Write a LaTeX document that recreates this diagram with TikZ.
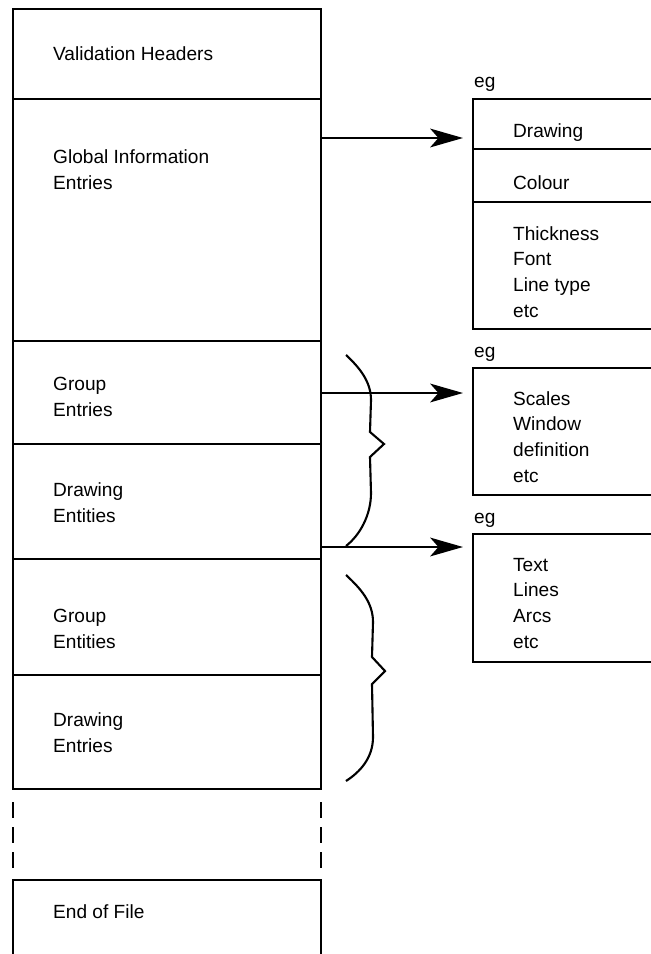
\documentclass[tikz,border=0pt]{standalone}
\usepackage{fontspec}
\setmainfont{Liberation Sans}
\usetikzlibrary{arrows.meta, positioning}

\begin{document}
\begin{tikzpicture}[x=0.03cm, y=-0.03cm, line width=2pt,
    >={Stealth[length=28pt, width=16pt, inset=7pt]},
    block/.style={minimum width=9.24cm, inner sep=0pt, outer sep=0pt, anchor=north west},
    part/.style={block, draw},
    side/.style={minimum width=5.34cm, inner sep=0pt, outer sep=0pt, anchor=north west},
    txt/.style={anchor=base west, inner sep=0pt, align=left, font=\fontsize{16.3}{21.8}\selectfont},
    gap/.style={dash pattern=on 13.7pt off 7.7pt}]
  \useasboundingbox (0,0) rectangle (651,954);

  % file layout
  \node[part, minimum height=2.7cm] (valid) at (13,9) {};
  \node[part, minimum height=7.26cm, below=0pt of valid] (global) {};
  \node[part, minimum height=3.09cm, below=0pt of global] (group1) {};
  \node[part, minimum height=3.45cm, below=0pt of group1] (draw1) {};
  \node[part, minimum height=3.48cm, below=0pt of draw1] (group2) {};
  \node[part, minimum height=3.42cm, below=0pt of group2] (draw2) {};
  \node[block, minimum height=2.22cm] (eof) at (13,880) {};
  \draw (eof.south west) |- (eof.north east) -- (eof.south east);
  \draw[gap] (13,802) -- (13,868);
  \draw[gap] (321,802) -- (321,868);

  % the base of a multi-line label is its last line
  \node[txt] (lvalid) at (52,61) {Validation Headers};
  \node[txt] (lglobal) at (52,189) {Global Information\\Entries};
  \node[txt] (lgroup1) at (52,416) {Group\\Entries};
  \node[txt] (ldraw1) at (52,522) {Drawing\\Entities};
  \node[txt] (lgroup2) at (52,648) {Group\\Entities};
  \node[txt] (ldraw2) at (52,752) {Drawing\\Entries};
  \node[txt] (leof) at (52,918) {End of File};

  % examples
  \node[side, minimum height=6.9cm] (attrib) at (473,99) {};
  \draw (attrib.north east) -| (attrib.south west) -- (attrib.south east);
  \draw (attrib.west |- 0,149) -- (attrib.east |- 0,149);
  \draw (attrib.west |- 0,202) -- (attrib.east |- 0,202);
  \node[txt] (eg1) at (473,88) {eg};
  \node[txt] (ldrawing) at (512,137) {Drawing};
  \node[txt] (lcolour) at (512,189) {Colour};
  \node[txt] (lthick) at (512,317) {Thickness\\Font\\Line type\\etc};

  \node[side, minimum height=3.81cm] (views) at (473,368) {};
  \draw (views.north east) -| (views.south west) -- (views.south east);
  \node[txt] (eg2) at (473,357) {eg};
  \node[txt] (lscales) at (512,482) {Scales\\Window\\definition\\etc};

  \node[side, minimum height=3.84cm] (prims) at (473,534) {};
  \draw (prims.north east) -| (prims.south west) -- (prims.south east);
  \node[txt] (eg3) at (473,523) {eg};
  \node[txt] (ltext) at (512,648) {Text\\Lines\\Arcs\\etc};

  % arrows
  \coordinate (tip1) at (463,138);
  \coordinate (tip2) at (463,393);
  \coordinate (tip3) at (463,547);
  \draw[->] (global.east |- tip1) -- (tip1);
  \draw[->] (group1.east |- tip2) -- (tip2);
  \draw[->] (draw1.east |- tip3) -- (tip3);

  % braces
  \draw[line width=1.8pt] (346,355) .. controls (360,368) and (371,382) .. (371,400)
    -- (370,432) -- (384,444) -- (370,457) -- (371,493)
    .. controls (371,515) and (360,535) .. (346,546);
  \draw[line width=1.8pt] (346,575) .. controls (360,588) and (373,602) .. (373,622)
    -- (372,657) -- (385,671) -- (372,684) -- (373,737)
    .. controls (373,758) and (360,772) .. (346,781);
\end{tikzpicture}
\end{document}
